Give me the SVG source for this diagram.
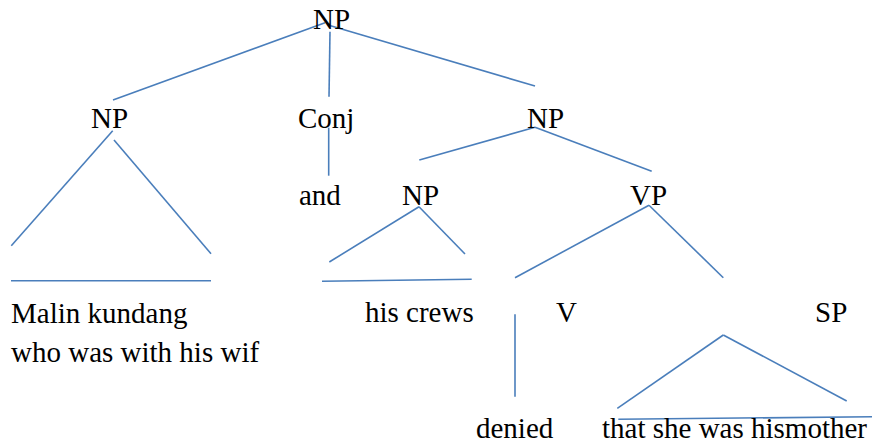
<svg xmlns="http://www.w3.org/2000/svg" width="872" height="446" viewBox="0 0 872 446">
<style>
.c line{stroke:#4a7ebb;stroke-width:1.6;fill:none}
</style>
<rect width="872" height="446" fill="#fff"/>
<g class="c" id="connectors">
<line x1="325" y1="22.7" x2="113" y2="100"/>
<line x1="330" y1="31.7" x2="329" y2="96.7"/>
<line x1="328" y1="25" x2="535" y2="86"/>
<line x1="112.7" y1="130.7" x2="11.3" y2="245.7"/>
<line x1="114" y1="140" x2="211" y2="253.7"/>
<line x1="11" y1="280.7" x2="211" y2="280.7"/>
<line x1="328.7" y1="127.7" x2="328.7" y2="175.7"/>
<line x1="535" y1="127.3" x2="419.3" y2="160"/>
<line x1="535" y1="127.3" x2="651.7" y2="171.3"/>
<line x1="419" y1="206.7" x2="329.3" y2="262"/>
<line x1="419" y1="206.7" x2="465" y2="254"/>
<line x1="322" y1="281.3" x2="471.7" y2="279.3"/>
<line x1="649" y1="205.3" x2="515" y2="277.7"/>
<line x1="649" y1="205.3" x2="723.3" y2="277.7"/>
<line x1="515" y1="314.3" x2="515" y2="396.7"/>
<line x1="723.3" y1="335" x2="617.3" y2="408.3"/>
<line x1="723.3" y1="335" x2="846.7" y2="401"/>
<line x1="618.3" y1="419.3" x2="872" y2="416.7"/>
</g>
<g font-family="Liberation Serif, serif" font-size="29" fill="#000">
<g id="np-root"><text x="313" y="29">NP</text></g>
<g id="np-left"><text x="91" y="128">NP</text></g>
<g id="conj"><text x="298" y="128">Conj</text></g>
<g id="np-right"><text x="527" y="128">NP</text></g>
<g id="and"><text x="299" y="205">and</text></g>
<g id="np-mid"><text x="402" y="205">NP</text></g>
<g id="vp"><text x="630" y="205">VP</text></g>
<g id="malin"><text x="11" y="322.5">Malin kundang</text><text x="11" y="361.5">who was with his wif</text></g>
<g id="crews"><text x="365" y="321.7">his crews</text></g>
<g id="v"><text x="556" y="321.7">V</text></g>
<g id="sp"><text x="815" y="321.7">SP</text></g>
<g id="denied"><text x="476" y="438.3">denied</text></g>
<g id="that"><text x="602" y="438.3">that she was hismother</text></g>
</g>
</svg>
